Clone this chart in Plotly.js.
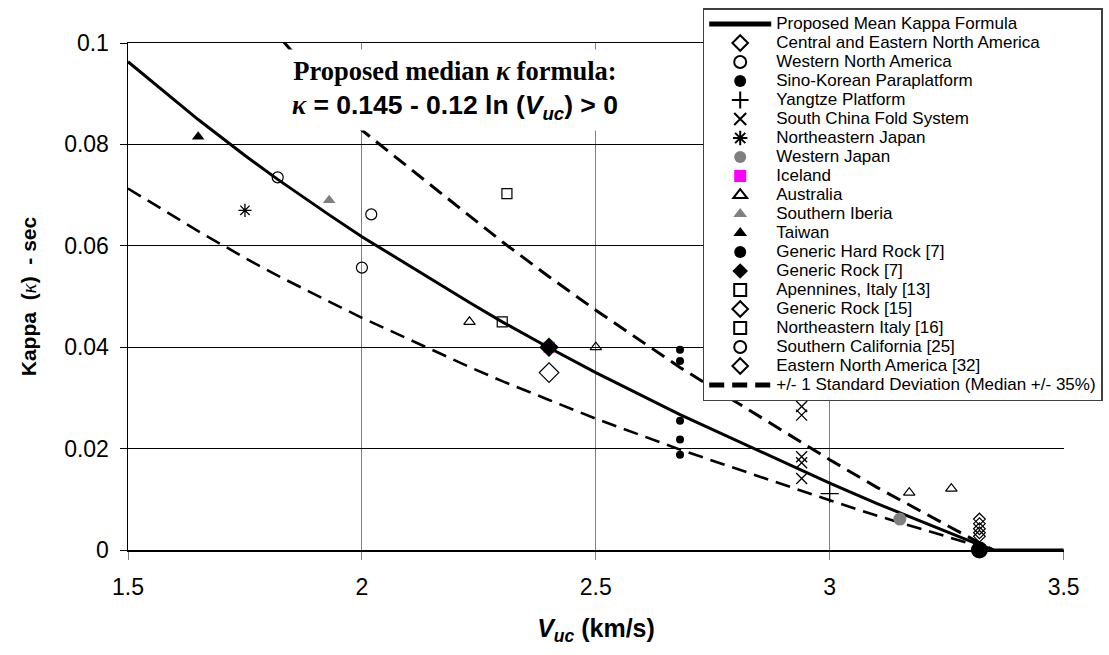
<!DOCTYPE html>
<html>
<head>
<meta charset="utf-8">
<script src="https://cdn.plot.ly/plotly-3.0.1.min.js"></script>
<style>html,body{margin:0;padding:0;background:#fff;}#chart{width:1109px;height:655px;}</style>
</head>
<body>
<div id="chart"></div>
<script>
// Curve values
const curveX     = [1.5, 1.65, 1.75, 1.82, 1.93, 2.0, 2.23, 2.3, 2.4, 2.5, 2.68, 2.94, 3.0, 3.1, 3.15, 3.26, 3.32, 3.35, 3.5];
const meanK      = [0.0963, 0.0849, 0.0778, 0.0731, 0.0661, 0.0618, 0.0488, 0.0450, 0.0399, 0.0350, 0.0267, 0.0156, 0.0132, 0.0092, 0.0073, 0.0032, 0.0010, 0.0, 0.0];
const lowerK     = [0.0713, 0.0629, 0.0576, 0.0541, 0.0490, 0.0458, 0.0361, 0.0333, 0.0296, 0.0259, 0.0198, 0.0116, 0.0098, 0.0068, 0.0054, 0.0024, 0.0007, 0.0];
const upperX     = [1.83, 2.0, 2.23, 2.3, 2.4, 2.5, 2.68, 2.94, 3.0, 3.1, 3.15, 3.26, 3.32, 3.35];
const upperK     = [0.1005, 0.0828, 0.0659, 0.0608, 0.0539, 0.0473, 0.0360, 0.0211, 0.0178, 0.0124, 0.0099, 0.0043, 0.0014, 0.0];

// Data points
const cenaX = [3.32, 3.32];             const cenaY = [0.0061, 0.0052];
const wnaX  = [1.82, 2.02];             const wnaY  = [0.0735, 0.0662];
const skX   = [2.68, 2.68, 2.68, 2.68, 2.68]; const skY = [0.0395, 0.0373, 0.0255, 0.0218, 0.0188];
const yzX   = [3.0];                    const yzY   = [0.0111];
const scX   = [2.94, 2.94, 2.94, 2.94, 2.94]; const scY = [0.0283, 0.0266, 0.0184, 0.0172, 0.0141];
const nejX  = [1.75];                   const nejY  = [0.067];
const wjX   = [3.15];                   const wjY   = [0.0061];
const iceX  = [2.4];                    const iceY  = [0.040];
const ausX  = [2.23, 2.5, 3.17, 3.26];  const ausY  = [0.045, 0.040, 0.0113, 0.0121];
const sibX  = [1.93];                   const sibY  = [0.069];
const twX   = [1.65];                   const twY   = [0.0815];
const ghrX  = [3.32];                   const ghrY  = [0.0];
const gr7X  = [2.4];                    const gr7Y  = [0.040];
const apX   = [2.3];                    const apY   = [0.045];
const gr15X = [2.4];                    const gr15Y = [0.035];
const neiX  = [2.31];                   const neiY  = [0.0703];
const scaX  = [2.0];                    const scaY  = [0.0557];
const enaX  = [3.32, 3.32, 3.32];       const enaY  = [0.0042, 0.0034, 0.0027];

const names = ['Proposed Mean Kappa Formula','Central and Eastern North America','Western North America',
 'Sino-Korean Paraplatform','Yangtze Platform','South China Fold System','Northeastern Japan','Western Japan',
 'Iceland','Australia','Southern Iberia','Taiwan','Generic Hard Rock [7]','Generic Rock [7]','Apennines, Italy [13]',
 'Generic Rock [15]','Northeastern Italy [16]','Southern California [25]','Eastern North America [32]',
 '+/- 1 Standard Deviation (Median +/- 35%)'];

// legend text drawn larger than the legend's row pitch, as in the reference
function legName(s) { return '<span style="font-size:17px">' + s + '</span>'; }

const dashStyle = '15px,8px';
const traces = [];
traces.push({x: curveX.slice(0, lowerK.length), y: lowerK, mode:'lines', name:legName(names[19]), showlegend:false,
  line:{color:'black', width:2.6, dash:dashStyle}, hoverinfo:'skip'});
traces.push({x: upperX, y: upperK, mode:'lines', name:legName(names[19]), legendrank:20,
  line:{color:'black', width:3, dash:dashStyle}});
traces.push({x: curveX, y: meanK, mode:'lines', name:legName(names[0]), legendrank:1,
  line:{color:'black', width:3}});

function pts(x, y, idx, sym, size, color, lineW, lineColor, extra) {
  const t = {x:x, y:y, mode:'markers', name:legName(names[idx]), legendrank:idx+1,
    marker:{symbol:sym, size:size, color:color, line:{width:lineW, color:lineColor||'black'}}};
  return Object.assign(t, extra||{});
}
traces.push(pts(cenaX, cenaY, 1, 'diamond-open', 9, 'black', 1.2));
traces.push(pts(wnaX, wnaY, 2, 'circle-open', 11, 'black', 1.2));
traces.push(pts(skX, skY, 3, 'circle', 8, 'black', 0));
traces.push(pts(yzX, yzY, 4, 'cross-thin-open', 13, 'black', 1.3));
traces.push(pts(scX, scY, 5, 'x-thin-open', 11, 'black', 1.3));
traces.push(pts(nejX, nejY, 6, 'asterisk-open', 11, 'black', 1.3));
traces.push(pts(wjX, wjY, 7, 'circle', 13, '#808080', 0));
traces.push(pts(iceX, iceY, 8, 'square', 11, '#ff00ff', 0));
traces.push(pts(ausX, ausY, 9, 'triangle-up-open', 10, 'black', 1.2));
traces.push(pts(sibX, sibY, 10, 'triangle-up', 11, '#808080', 0));
traces.push(pts(twX, twY, 11, 'triangle-up', 11, 'black', 0));
traces.push(pts(ghrX, ghrY, 12, 'circle', 17, 'black', 0, 'black', {cliponaxis:false}));
traces.push(pts(gr7X, gr7Y, 13, 'diamond', 15, 'black', 0));
traces.push(pts(apX, apY, 14, 'square-open', 10, 'black', 1.2));
traces.push(pts(gr15X, gr15Y, 15, 'diamond-open', 15, 'black', 1.2));
traces.push(pts(neiX, neiY, 16, 'square-open', 10, 'black', 1.2));
traces.push(pts(scaX, scaY, 17, 'circle-open', 11, 'black', 1.2));
traces.push(pts(enaX, enaY, 18, 'diamond-open', 9, 'black', 1.2));

const xTickVals = [1.5, 2, 2.5, 3, 3.5];
const xTickText = ['1.5', '2', '2.5', '3', '3.5'];
const yTickVals = [0, 0.02, 0.04, 0.06, 0.08, 0.1];
const yTickText = ['0', '0.02', '0.04', '0.06', '0.08', '0.1'];

const layout = {
  width:1109, height:655,
  margin:{l:128, r:45, t:43, b:105, autoexpand:false},
  paper_bgcolor:'white', plot_bgcolor:'white',
  font:{family:'Liberation Sans, Arial, sans-serif', color:'black'},
  showlegend:true,
  xaxis:{range:[1.5, 3.5008], tickvals:xTickVals, ticktext:xTickText,
    showgrid:true, gridcolor:'#808080', gridwidth:1, zeroline:false,
    showline:true, linecolor:'black', linewidth:1.5, mirror:true,
    ticks:'outside', ticklen:8, tickcolor:'#808080', ticklabelstandoff:8,
    tickfont:{size:23, family:'Liberation Sans, Arial, sans-serif'},
    title:{text:'<i>V</i><sub><i>uc</i></sub> (km/s)', font:{size:25, weight:'bold'}, standoff:20}},
  yaxis:{range:[0, 0.1], tickvals:yTickVals, ticktext:yTickText,
    showgrid:true, gridcolor:'black', gridwidth:1, zeroline:false,
    showline:true, linecolor:'black', linewidth:1.5,
    ticks:'outside', ticklen:7, tickcolor:'black', ticklabelstandoff:6,
    tickfont:{size:23, family:'Liberation Sans, Arial, sans-serif'},
    title:{text:'Kappa  (<i style="font-family:Liberation Serif;font-weight:normal">κ</i>)  - sec', font:{size:21, weight:'bold'}, standoff:22}},
  legend:{x:0.614, y:1.069, xanchor:'left', yanchor:'top',
    bgcolor:'white', bordercolor:'#404040', borderwidth:1.5,
    font:{family:'Liberation Sans, Arial, sans-serif', size:12, color:'black'},
    itemsizing:'constant', itemwidth:62, tracegroupgap:0, traceorder:'normal', maxheight:640},
  annotations:[{
    xref:'x', yref:'y', x:2.2, y:0.0908, xanchor:'center', yanchor:'middle', showarrow:false,
    bgcolor:'white', borderpad:6, align:'center',
    font:{size:26.5, weight:'bold', color:'black', family:'Liberation Sans, Arial, sans-serif'},
    text:'<span style="font-family:Liberation Serif">Proposed median <i>κ</i> formula:</span><br>' +
         '<i style="font-family:Liberation Serif">κ</i> = 0.145 - 0.12 ln (<i>V<sub>uc</sub></i>) &gt; 0'
  }]
};

Plotly.newPlot('chart', traces, layout, {displayModeBar:false, staticPlot:true});
</script>
</body>
</html>
